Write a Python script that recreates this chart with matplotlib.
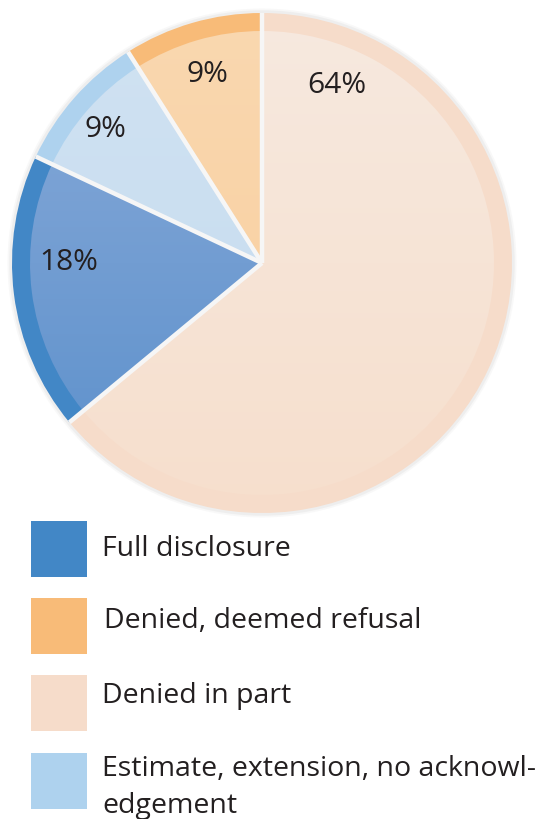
import numpy as np
import matplotlib
matplotlib.use("Agg")
import matplotlib.pyplot as plt
from matplotlib.patches import Wedge, Circle, Rectangle
from matplotlib.colors import to_rgb

plt.rcParams["font.family"] = ["Open Sans", "DejaVu Sans"]

# slices, clockwise from 12 o'clock
slice_names = ["Denied in part", "Full disclosure",
               "Estimate, extension, no acknowl-\nedgement", "Denied, deemed refusal"]
slice_values = [64, 18, 9, 9]
ring_colors = ["#f6dcca", "#4287c6", "#aed2ee", "#f8bb78"]
grad_top = ["#f6e9df", "#8aabd9", "#d0e2f2", "#fad8b0"]
grad_bottom = ["#f7dfcd", "#5a8fcb", "#c4dbef", "#f9cd9c"]
# label anchor (centre x, baseline y) in pie units
label_pos = [(0.30, 0.68), (-0.774, -0.028), (-0.628, 0.504), (-0.22, 0.724)]

legend_order = [1, 3, 0, 2]
# legend rows: swatch top, text left, text baseline (pixels from top-left)
legend_rows = [(521, 102, 556), (598, 104, 628), (675, 102, 703), (753, 102, 776)]

W, H = 537, 819
fig = plt.figure(figsize=(W / 100, H / 100), dpi=100)

cx, cy, R = 262, 263, 250
ax = fig.add_axes([(cx - R) / W, (H - cy - R) / H, 2 * R / W, 2 * R / H])
ax.set_xlim(-1, 1)
ax.set_ylim(-1, 1)
ax.set_aspect("equal")
ax.axis("off")

# soft grey halo round the disc
for r, a in [(1.018, 0.25), (1.011, 0.5)]:
    ax.add_patch(Circle((0, 0), r, color="#e6e6e6", alpha=a, lw=0, zorder=0, clip_on=False))

wedges, _ = ax.pie(slice_values, colors=ring_colors, startangle=90, counterclock=False,
                   radius=1.0, wedgeprops=dict(edgecolor="none"))
for w in wedges:
    w.set_zorder(1)

# inner part of each slice gets a vertical gradient
inner = 0.928
for w, top, bot in zip(wedges, grad_top, grad_bottom):
    clip = Wedge((0, 0), inner, w.theta1, w.theta2, facecolor="none", edgecolor="none")
    ax.add_patch(clip)
    c0, c1 = np.array(to_rgb(top)), np.array(to_rgb(bot))
    f = np.linspace(0, 1, 256)[:, None]
    img = (c0 * (1 - f) + c1 * f)[:, None, :]
    im = ax.imshow(img, extent=[-1, 1, -1, 1], origin="upper", aspect="auto",
                   zorder=2, interpolation="bilinear")
    im.set_clip_path(clip)

# separators between slices
bounds = 90 - 360 * np.cumsum([0] + slice_values[:-1]) / sum(slice_values)
for b in bounds:
    th = np.deg2rad(b)
    ax.plot([0, np.cos(th)], [0, np.sin(th)], color="#f6f6f6", lw=3.2,
            solid_capstyle="butt", zorder=3)
ax.set_xlim(-1, 1)
ax.set_ylim(-1, 1)

for v, (x, y) in zip(slice_values, label_pos):
    ax.text(x, y, f"{v}%", ha="center", va="baseline", fontsize=21.5,
            color="#231f20", zorder=4)

# legend
for k, (top, tx, base) in zip(legend_order, legend_rows):
    fig.patches.append(Rectangle((31 / W, (H - top - 56) / H), 56 / W, 56 / H,
                                 transform=fig.transFigure, color=ring_colors[k], lw=0))
    for j, line in enumerate(slice_names[k].split("\n")):
        fig.text(tx / W, (H - base - j * 37) / H, line, fontsize=20.5,
                 color="#231f20", ha="left", va="baseline")

fig.savefig("out.png", dpi=100)
